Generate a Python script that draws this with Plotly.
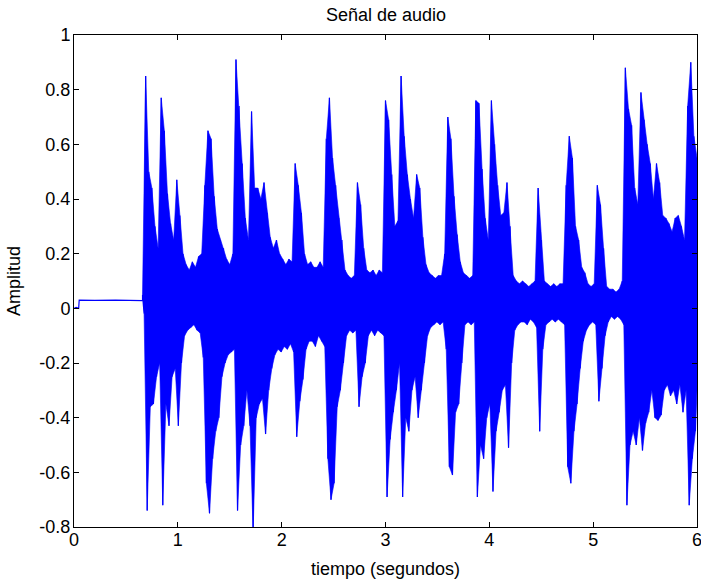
import plotly.graph_objects as go

# ---- data ----
TITLE = "Señal de audio"
X_LABEL = "tiempo (segundos)"
Y_LABEL = "Amplitud"

X_TICKS = [0, 1, 2, 3, 4, 5, 6]
X_TICK_LABELS = ["0", "1", "2", "3", "4", "5", "6"]
Y_TICKS = [-0.8, -0.6, -0.4, -0.2, 0, 0.2, 0.4, 0.6, 0.8, 1]
Y_TICK_LABELS = ["-0.8", "-0.6", "-0.4", "-0.2", "0", "0.2", "0.4", "0.6", "0.8", "1"]

# quiet lead-in (silence + small DC offset)
LEAD_T = [0.0, 0.02, 0.045, 0.05, 0.2, 0.4, 0.66]
LEAD_Y = [0.0, 0.003, 0.0, 0.03, 0.029, 0.030, 0.028]

# active part: sample window start, step (s)
T_START = 0.66
T_STEP = 0.03

# upper / lower extremes of the waveform in each 0.03 s window
UPPER = [
    0.05, 0.85, 0.50, 0.44, 0.30, 0.22, 0.77, 0.65, 0.42, 0.31,
    0.25, 0.47, 0.34, 0.20, 0.16, 0.14, 0.17, 0.15, 0.19, 0.20,
    0.45, 0.65, 0.62, 0.41, 0.29, 0.25, 0.22, 0.18, 0.16, 0.20,
    0.91, 0.74, 0.53, 0.33, 0.25, 0.72, 0.44, 0.44, 0.40, 0.46,
    0.35, 0.26, 0.22, 0.25, 0.20, 0.18, 0.16, 0.18, 0.17, 0.53,
    0.45, 0.35, 0.20, 0.16, 0.17, 0.15, 0.15, 0.17, 0.15, 0.62,
    0.77, 0.55, 0.45, 0.33, 0.25, 0.14, 0.12, 0.11, 0.12, 0.46,
    0.38, 0.22, 0.14, 0.13, 0.14, 0.12, 0.14, 0.13, 0.76, 0.69,
    0.49, 0.30, 0.32, 0.85, 0.63, 0.49, 0.40, 0.33, 0.49, 0.44,
    0.26, 0.16, 0.13, 0.12, 0.11, 0.12, 0.12, 0.20, 0.70, 0.62,
    0.41, 0.27, 0.17, 0.13, 0.12, 0.11, 0.12, 0.76, 0.75, 0.51,
    0.33, 0.25, 0.76, 0.60, 0.45, 0.34, 0.35, 0.46, 0.30, 0.12,
    0.10, 0.09, 0.10, 0.09, 0.08, 0.09, 0.10, 0.44, 0.25, 0.10,
    0.09, 0.08, 0.09, 0.08, 0.09, 0.09, 0.45, 0.63, 0.55, 0.30,
    0.25, 0.15, 0.13, 0.09, 0.08, 0.09, 0.45, 0.38, 0.22, 0.08,
    0.07, 0.07, 0.06, 0.07, 0.10, 0.88, 0.73, 0.67, 0.44, 0.38,
    0.79, 0.69, 0.60, 0.53, 0.40, 0.53, 0.46, 0.34, 0.33, 0.31,
    0.28, 0.33, 0.34, 0.30, 0.25, 0.74, 0.90, 0.63, 0.55,
]
LOWER = [
    -0.02, -0.74, -0.36, -0.35, -0.25, -0.20, -0.72, -0.35, -0.43, -0.25,
    -0.22, -0.43, -0.20, -0.10, -0.08, -0.07, -0.06, -0.08, -0.09, -0.18,
    -0.64, -0.75, -0.55, -0.45, -0.40, -0.25, -0.20, -0.17, -0.16, -0.15,
    -0.74, -0.50, -0.43, -0.30, -0.43, -0.82, -0.40, -0.35, -0.33, -0.46,
    -0.30, -0.22, -0.17, -0.15, -0.16, -0.14, -0.15, -0.13, -0.16, -0.47,
    -0.34, -0.26, -0.15, -0.12, -0.12, -0.14, -0.10, -0.12, -0.14, -0.55,
    -0.70, -0.64, -0.36, -0.30, -0.20, -0.10, -0.08, -0.09, -0.08, -0.36,
    -0.25, -0.20, -0.10, -0.08, -0.10, -0.08, -0.09, -0.10, -0.69, -0.48,
    -0.38, -0.30, -0.20, -0.69, -0.40, -0.45, -0.30, -0.25, -0.40, -0.30,
    -0.20, -0.10, -0.07, -0.06, -0.05, -0.06, -0.05, -0.15, -0.58, -0.61,
    -0.38, -0.35, -0.20, -0.06, -0.05, -0.06, -0.05, -0.69, -0.50, -0.55,
    -0.40, -0.35, -0.67, -0.45, -0.38, -0.30, -0.28, -0.51, -0.20, -0.08,
    -0.06, -0.05, -0.05, -0.06, -0.04, -0.05, -0.07, -0.45, -0.15, -0.06,
    -0.05, -0.04, -0.05, -0.04, -0.05, -0.06, -0.58, -0.64, -0.45, -0.35,
    -0.22, -0.12, -0.08, -0.06, -0.05, -0.06, -0.34, -0.22, -0.10, -0.05,
    -0.03, -0.04, -0.03, -0.04, -0.06, -0.72, -0.50, -0.45, -0.50, -0.40,
    -0.52, -0.42, -0.38, -0.30, -0.40, -0.41, -0.39, -0.30, -0.28, -0.32,
    -0.30, -0.35, -0.28, -0.38, -0.30, -0.72, -0.55, -0.45, -0.30,
]

BLUE = "#0000FF"
FONT = "Liberation Sans, Arial, sans-serif"

# ---- sample times of the windows ----
times = [T_START + i * T_STEP for i in range(len(UPPER))]
times_lo = [min(t + T_STEP / 2, 6.0) for t in times]

fig = go.Figure()

# dense body of the waveform: area between upper and lower extremes
fig.add_trace(go.Scatter(
    x=times + times_lo[::-1], y=UPPER + LOWER[::-1],
    mode="lines", fill="toself", fillcolor=BLUE,
    line=dict(color=BLUE, width=0.6), hoverinfo="skip", showlegend=False))

# waveform stroke (lead-in + hi/lo strokes per window)
xs = list(LEAD_T)
ys = list(LEAD_Y)
for t, tl, hi, lo in zip(times, times_lo, UPPER, LOWER):
    xs += [t, tl]
    ys += [hi, lo]
fig.add_trace(go.Scatter(x=xs, y=ys, mode="lines",
                         line=dict(color=BLUE, width=1.2),
                         hoverinfo="skip", showlegend=False))

axis_common = dict(showline=True, linecolor="black", linewidth=1, mirror="allticks",
                   ticks="inside", ticklen=5, tickwidth=1, tickcolor="black",
                   showgrid=False, zeroline=False, ticklabeloverflow="allow",
                   automargin=False,
                   tickfont=dict(family=FONT, size=18, color="black"))

fig.update_layout(
    width=701, height=581,
    paper_bgcolor="white", plot_bgcolor="white",
    margin=dict(l=74, r=4, t=35, b=54, autoexpand=False),
    xaxis=dict(range=[0, 6], tickvals=X_TICKS, ticktext=X_TICK_LABELS,
               ticklabelstandoff=-4, **axis_common),
    yaxis=dict(range=[-0.8, 1], tickvals=Y_TICKS, ticktext=Y_TICK_LABELS,
               ticklabelstandoff=-1, **axis_common),
    annotations=[
        dict(text=TITLE, xref="paper", yref="paper", x=0.5, y=1, yshift=8,
             xanchor="center", yanchor="bottom", showarrow=False,
             font=dict(family=FONT, size=18, color="black")),
        dict(text=X_LABEL, xref="paper", yref="paper", x=0.5, y=0, yshift=-30,
             xanchor="center", yanchor="top", showarrow=False,
             font=dict(family=FONT, size=18, color="black")),
        dict(text=Y_LABEL, xref="paper", yref="paper", x=0, y=0.5, xshift=-48,
             xanchor="right", yanchor="middle", textangle=-90, showarrow=False,
             font=dict(family=FONT, size=18, color="black")),
    ],
)

fig.write_html("out.html", config={"displayModeBar": False},
               post_script="document.body.style.margin='0';")
